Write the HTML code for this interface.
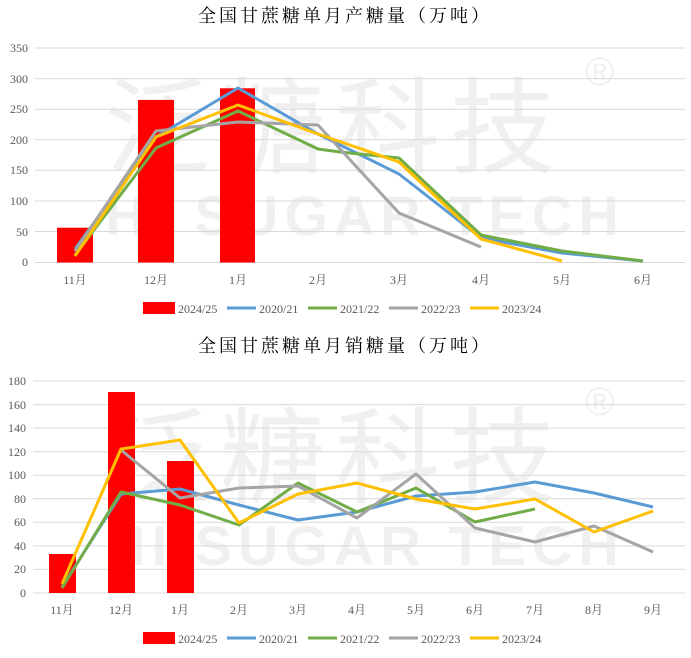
<!DOCTYPE html>
<html><head><meta charset="utf-8"><style>
html,body{margin:0;padding:0;background:#fff;}
svg text{font-family:"Liberation Serif","Noto Serif CJK SC",serif;}
svg text.wm{font-family:"Liberation Sans","Noto Sans CJK SC",sans-serif;}
</style></head><body>
<svg width="691" height="653" viewBox="0 0 691 653" xmlns="http://www.w3.org/2000/svg">
<rect width="691" height="653" fill="#fff"/>
<g fill="#f0f0f0">
<text class="wm" x="105" y="165" font-size="105" letter-spacing="10">泛糖科技</text>
<text class="wm" x="105" y="235" font-size="56" font-weight="bold" letter-spacing="6">HI SUGAR TECH</text>
<text class="wm" x="585" y="85" font-size="40">®</text>
<text class="wm" x="105" y="495" font-size="105" letter-spacing="10">泛糖科技</text>
<text class="wm" x="105" y="565" font-size="56" font-weight="bold" letter-spacing="6">HI SUGAR TECH</text>
<text class="wm" x="585" y="415" font-size="40">®</text>
</g>
<!-- Chart 1 -->
<text x="345" y="22" font-size="18" text-anchor="middle" letter-spacing="3" fill="#000">全国甘蔗糖单月产糖量（万吨）</text>
<g stroke="#d9d9d9" stroke-width="1">
<line x1="35" x2="685" y1="48" y2="48"/><line x1="35" x2="685" y1="78.6" y2="78.6"/><line x1="35" x2="685" y1="109.2" y2="109.2"/><line x1="35" x2="685" y1="139.8" y2="139.8"/><line x1="35" x2="685" y1="170.3" y2="170.3"/><line x1="35" x2="685" y1="200.9" y2="200.9"/><line x1="35" x2="685" y1="231.5" y2="231.5"/><line x1="35" x2="685" y1="262.5" y2="262.5"/>
</g>
<g font-size="12" fill="#595959" text-anchor="end">
<text x="28" y="52">350</text><text x="28" y="83">300</text><text x="28" y="113">250</text><text x="28" y="144">200</text><text x="28" y="174">150</text><text x="28" y="205">100</text><text x="28" y="236">50</text><text x="28" y="266">0</text>
</g>
<g font-size="12" fill="#595959" text-anchor="middle">
<text x="75" y="284">11月</text><text x="156" y="284">12月</text><text x="238" y="284">1月</text><text x="318" y="284">2月</text><text x="399" y="284">3月</text><text x="481" y="284">4月</text><text x="562" y="284">5月</text><text x="643" y="284">6月</text>
</g>
<g fill="#ff0000">
<rect x="57" y="227.7" width="36" height="34.8"/><rect x="138" y="99.9" width="36" height="162.6"/><rect x="220" y="88.3" width="35" height="174.2"/>
</g>
<g fill="none" stroke-width="3" stroke-linejoin="round">
<polyline stroke="#5b9bd5" points="75,249 156,137 238,88 318,134 399,174 481,238 562,253 643,261"/>
<polyline stroke="#70ad47" points="75,255 156,148 238,111 318,149 340,152 399,158 481,235 562,251 643,261"/>
<polyline stroke="#a5a5a5" points="75,251 156,131 238,122 318,125 399,213 481,247"/>
<polyline stroke="#ffc000" points="75,256 156,137 238,105 318,134 399,162 481,239 562,261"/>
</g>
<g font-size="12" fill="#595959">
<rect x="143" y="302" width="32" height="12" fill="#ff0000"/><text x="178" y="313">2024/25</text>
<line x1="227" x2="256" y1="308" y2="308" stroke="#5b9bd5" stroke-width="3"/><text x="259" y="313">2020/21</text>
<line x1="308" x2="337" y1="308" y2="308" stroke="#70ad47" stroke-width="3"/><text x="340" y="313">2021/22</text>
<line x1="389" x2="418" y1="308" y2="308" stroke="#a5a5a5" stroke-width="3"/><text x="421" y="313">2022/23</text>
<line x1="470" x2="499" y1="308" y2="308" stroke="#ffc000" stroke-width="3"/><text x="502" y="313">2023/24</text>
</g>
<!-- Chart 2 -->
<text x="345" y="352" font-size="18" text-anchor="middle" letter-spacing="3" fill="#000">全国甘蔗糖单月销糖量（万吨）</text>
<g stroke="#d9d9d9" stroke-width="1">
<line x1="33" x2="685" y1="381" y2="381"/><line x1="33" x2="685" y1="404.6" y2="404.6"/><line x1="33" x2="685" y1="428.1" y2="428.1"/><line x1="33" x2="685" y1="451.7" y2="451.7"/><line x1="33" x2="685" y1="475.2" y2="475.2"/><line x1="33" x2="685" y1="498.8" y2="498.8"/><line x1="33" x2="685" y1="522.3" y2="522.3"/><line x1="33" x2="685" y1="545.9" y2="545.9"/><line x1="33" x2="685" y1="569.4" y2="569.4"/><line x1="33" x2="685" y1="593" y2="593"/>
</g>
<g font-size="12" fill="#595959" text-anchor="end">
<text x="26" y="385">180</text><text x="26" y="409">160</text><text x="26" y="432">140</text><text x="26" y="456">120</text><text x="26" y="479">100</text><text x="26" y="503">80</text><text x="26" y="526">60</text><text x="26" y="550">40</text><text x="26" y="573">20</text><text x="26" y="597">0</text>
</g>
<g font-size="12" fill="#595959" text-anchor="middle">
<text x="62" y="614">11月</text><text x="121" y="614">12月</text><text x="180" y="614">1月</text><text x="239" y="614">2月</text><text x="298" y="614">3月</text><text x="357" y="614">4月</text><text x="416" y="614">5月</text><text x="475" y="614">6月</text><text x="535" y="614">7月</text><text x="594" y="614">8月</text><text x="653" y="614">9月</text>
</g>
<g fill="#ff0000">
<rect x="49" y="554" width="27" height="39"/><rect x="108" y="392" width="27" height="201"/><rect x="167" y="461" width="27" height="132"/>
</g>
<g fill="none" stroke-width="3" stroke-linejoin="round">
<polyline stroke="#5b9bd5" points="62,587 121,494 180,489 239,505 298,520 357,512 416,496 475,492 535,482 594,493 653,507"/>
<polyline stroke="#70ad47" points="62,588 121,492 180,505 239,525 298,483 357,512 416,488 475,522 535,509"/>
<polyline stroke="#a5a5a5" points="121,450 180,498 239,488 298,486 357,518 416,474 475,528 535,542 594,526 653,552"/>
<polyline stroke="#ffc000" points="62,584 121,449 180,440 239,523 298,494 357,483 416,499 475,509 535,499 594,532 653,511"/>
</g>
<g font-size="12" fill="#595959">
<rect x="143" y="632" width="32" height="12" fill="#ff0000"/><text x="178" y="643">2024/25</text>
<line x1="227" x2="256" y1="638" y2="638" stroke="#5b9bd5" stroke-width="3"/><text x="259" y="643">2020/21</text>
<line x1="308" x2="337" y1="638" y2="638" stroke="#70ad47" stroke-width="3"/><text x="340" y="643">2021/22</text>
<line x1="389" x2="418" y1="638" y2="638" stroke="#a5a5a5" stroke-width="3"/><text x="421" y="643">2022/23</text>
<line x1="470" x2="499" y1="638" y2="638" stroke="#ffc000" stroke-width="3"/><text x="502" y="643">2023/24</text>
</g>
</svg>
</body></html>
